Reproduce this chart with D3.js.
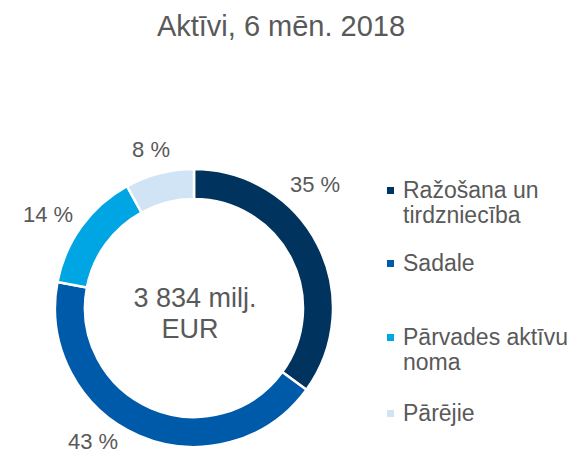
<!DOCTYPE html>
<html><head><meta charset="utf-8">
<script src="https://cdn.jsdelivr.net/npm/d3@7"></script>
<style>body{margin:0;background:#fff}svg{display:block}text{font-family:"Liberation Sans",Arial,sans-serif;fill:#595959}</style>
</head><body>
<svg id="c" width="575" height="454"></svg>
<script>
const title = "Aktīvi, 6 mēn. 2018";
const categories = ["Ražošana un tirdzniecība", "Sadale", "Pārvades aktīvu noma", "Pārējie"];
const legendLines = [["Ražošana un", "tirdzniecība"], ["Sadale"], ["Pārvades aktīvu", "noma"], ["Pārējie"]];
const values = [35, 43, 14, 8];
const valueLabels = ["35 %", "43 %", "14 %", "8 %"];
const centerLines = ["3 834 milj.", "EUR"];
const colors = ["#00345F", "#005AAA", "#00A5E3", "#D0E4F5"];

const svg = d3.select("#c");
svg.append("text").attr("x", 281).attr("y", 36).attr("text-anchor", "middle")
  .style("font-size", "29px").text(title);

const cx = 194, cy = 308, R = 139, r = 109;
const pie = d3.pie().sort(null).value(d => d);
const arcs = pie(values);
const arc = d3.arc().innerRadius(r).outerRadius(R);
const g = svg.append("g").attr("transform", `translate(${cx},${cy})`);
g.selectAll("path").data(arcs).enter().append("path")
  .attr("d", arc).attr("fill", (d, i) => colors[i])
  .attr("stroke", "#fff").attr("stroke-width", 2.5);

// percent labels, placed relative to the donut centre
const labelPos = [[121, -116], [-101, 141], [-146, -86], [-43, -151]];
g.selectAll("text.pl").data(arcs).enter().append("text").attr("class", "pl")
  .attr("text-anchor", "middle").style("font-size", "22px")
  .attr("x", (d, i) => labelPos[i][0])
  .attr("y", (d, i) => labelPos[i][1])
  .text((d, i) => valueLabels[i]);

// center text
svg.append("text").attr("x", 195).attr("y", 307).attr("text-anchor", "middle")
  .style("font-size", "27px").text(centerLines[0]);
svg.append("text").attr("x", 190).attr("y", 338).attr("text-anchor", "middle")
  .style("font-size", "27px").text(centerLines[1]);

// legend
const legendY = [198, 271, 345, 421];
const lg = svg.append("g");
categories.forEach((c, i) => {
  lg.append("rect").attr("x", 387).attr("y", legendY[i] - 11).attr("width", 7).attr("height", 7)
    .attr("fill", colors[i]);
  legendLines[i].forEach((t, j) => {
    lg.append("text").attr("x", 403).attr("y", legendY[i] + j * 25)
      .style("font-size", "23px").text(t);
  });
});
</script>
</body></html>
